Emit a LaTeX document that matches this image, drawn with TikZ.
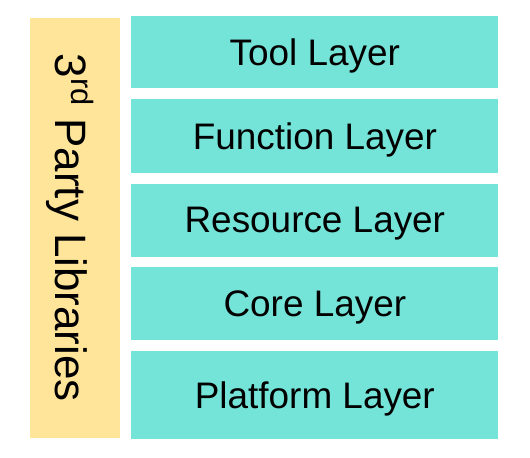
\documentclass[tikz,border=0pt]{standalone}
\usepackage{fontspec}
\setmainfont{Liberation Sans}
\usetikzlibrary{positioning, calc}
\definecolor{teal}   {HTML}{74E3D8}
\definecolor{gold}   {HTML}{FEE599}
\definecolor{ink}    {HTML}{000000}
\tikzset{
  layer/.style = {fill=teal, draw=none, inner sep=0pt,
                  minimum width=7.34cm, minimum height=1.46cm,
                  text depth=0pt, text=ink,
                  font=\fontsize{21}{25}\selectfont},
  libs/.style  = {fill=gold, draw=none, inner sep=0pt,
                  minimum width=8.4cm, minimum height=1.8cm,
                  text depth=0pt, text=ink,
                  font=\fontsize{25}{30}\selectfont},
}
\begin{document}
\begin{tikzpicture}

  \useasboundingbox (0,0) rectangle (10.6,-9.16);

  % layer stack
  \node[layer, minimum height=1.44cm, anchor=north west] (tool) at (2.62,-0.32)
    {Tool Layer};
  \node[layer, minimum height=1.48cm, below=0.2cm of tool] (func)
    {Function Layer};
  \node[layer, below=0.2cm of func] (res)
    {Resource Layer};
  \node[layer, below=0.2cm of res]  (core)
    {Core Layer};
  \node[layer, minimum height=1.76cm, below=0.2cm of core] (plat)
    {Platform Layer};

  % side bar
  \node[libs, rotate=-90] (libs)
    at ($(tool.north west)!0.5!(plat.south west)+(-1.12,0)$)
    {3\textsuperscript{rd} Party Libraries};

\end{tikzpicture}
\end{document}
